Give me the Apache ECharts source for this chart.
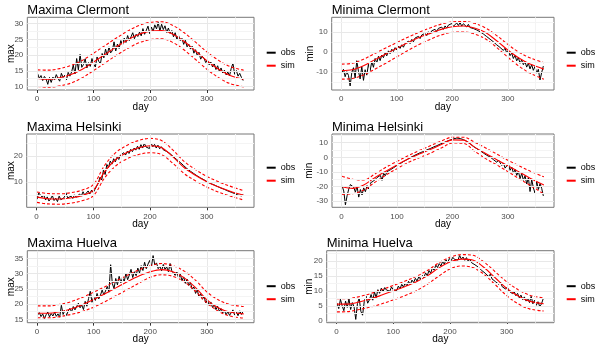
<!DOCTYPE html>
<html>
<head>
<meta charset="utf-8">
<script src="https://cdn.jsdelivr.net/npm/echarts@6/dist/echarts.min.js"></script>
<style>
html, body { margin: 0; padding: 0; background: #fff; }
#chart { width: 600px; height: 350px; }
</style>
</head>
<body>
<div id="chart"></div>
<script>
// observed values, one every 3 days (day 1, 4, 7 ... 364)
var obsStep = 3;
var clermontMaxObs = [
    14.1,12.6,13.5,11.9,13.2,12.4,10.7,12.9,11.3,13.0,
    12.2,13.8,12.6,11.7,14.2,12.9,13.6,12.1,14.5,13.3,
    14.6,16.8,14.0,18.9,15.3,20.2,16.1,17.0,18.8,15.9,
    17.6,16.4,18.9,17.1,16.2,19.4,18.0,17.3,20.5,19.1,
    21.9,19.8,22.6,20.7,21.4,24.2,21.3,23.5,22.1,24.6,
    23.2,25.4,24.0,26.2,24.6,25.8,27.1,25.2,26.6,25.9,
    27.3,26.1,28.4,26.6,27.0,29.2,26.8,28.9,27.5,29.6,
    28.3,30.4,27.6,29.8,28.1,29.3,27.2,28.6,26.9,27.8,
    25.8,27.1,25.0,26.2,24.6,25.3,23.4,24.7,22.6,23.5,
    21.9,22.8,20.6,21.7,19.8,20.9,18.7,19.6,18.9,17.6,
    18.4,16.9,17.8,16.2,17.3,15.4,16.6,14.8,15.9,14.3,
    15.2,13.7,14.6,13.4,15.8,17.4,13.9,15.1,13.3,14.2,
    12.9,11.9];
var clermontMinObs = [
    -10.4,-8.6,-12.3,-9.8,-11.6,-16.9,-10.2,-7.8,-12.9,-4.3,
    -9.6,-13.4,-7.2,-14.1,-8.8,-11.5,-6.1,-9.3,-4.8,-7.6,
    -3.2,-5.4,-2.1,-4.3,-1.5,-2.8,-0.4,-1.9,0.6,-0.8,
    1.4,0.3,2.2,1.1,2.9,1.8,3.6,2.4,4.3,3.5,
    5.4,4.2,6.3,5.1,7.0,6.2,7.8,6.7,8.5,7.6,
    9.3,8.2,10.1,9.0,10.6,9.7,11.3,10.2,11.8,10.9,
    12.4,11.3,13.0,11.9,13.4,12.6,14.2,12.8,13.7,14.5,
    13.2,14.7,12.9,14.1,13.4,12.5,13.8,12.2,13.1,11.7,
    12.4,11.0,11.6,10.1,10.8,9.0,9.6,7.7,8.3,6.4,
    7.0,5.1,5.8,3.6,4.5,2.3,3.1,0.8,1.9,-0.4,
    0.7,-1.8,-0.5,-3.2,-1.6,-4.4,-2.7,-5.6,-3.9,-6.3,
    -4.8,-7.5,-5.6,-8.4,-6.3,-9.1,-7.2,-10.5,-8.6,-13.9,
    -10.2,-7.0];
var helsinkiMaxObs = [
    3.4,5.8,6.1,4.2,5.0,3.1,4.3,2.7,3.6,4.8,
    2.9,3.8,2.5,4.6,3.2,2.6,4.1,5.9,3.9,3.3,
    4.6,3.7,5.1,4.2,3.9,5.4,4.6,6.3,5.0,5.8,
    6.6,5.4,6.9,6.0,7.2,7.8,9.6,11.9,10.8,14.6,
    12.9,16.8,15.6,18.1,16.9,19.0,17.8,19.6,18.7,20.4,
    19.8,21.3,20.4,21.9,21.0,22.6,21.7,23.1,22.3,23.8,
    22.6,24.4,23.1,24.9,23.5,24.2,22.9,25.0,23.6,24.5,
    23.1,24.2,22.8,23.6,22.5,23.0,21.8,22.2,21.0,20.6,
    19.8,20.1,18.7,18.9,17.6,17.8,16.4,16.6,15.2,15.0,
    14.2,14.4,13.3,13.6,12.4,12.8,11.6,12.0,10.9,11.2,
    10.1,10.5,9.4,9.9,8.9,9.3,8.3,8.8,7.7,8.2,
    7.2,7.7,6.6,7.1,6.1,6.7,5.6,6.2,5.0,5.7,
    4.7,5.2];
var helsinkiMinObs = [
    -19.6,-23.1,-32.6,-26.4,-21.8,-18.7,-17.9,-20.6,-23.9,-19.8,
    -27.3,-22.1,-25.8,-21.0,-23.6,-19.4,-21.7,-17.6,-18.9,-16.2,
    -16.7,-13.9,-15.2,-12.4,-15.8,-11.0,-12.6,-9.8,-10.7,-8.6,
    -9.3,-7.1,-7.9,-5.6,-6.4,-4.3,-4.9,-2.8,-3.3,-1.6,
    -2.0,-0.2,-0.9,1.0,0.3,2.1,1.4,3.2,2.6,4.0,
    3.6,5.1,4.4,6.0,5.3,7.1,6.4,8.0,7.5,9.1,
    8.6,10.0,9.5,11.0,10.4,11.9,11.2,12.7,12.0,13.2,
    12.4,12.9,11.9,12.1,11.2,10.9,10.1,9.2,8.8,7.4,
    7.6,5.9,6.3,4.5,4.8,2.9,3.5,1.4,2.3,0.2,
    1.0,-1.6,-0.6,-3.4,-1.9,-2.8,-5.6,-3.9,-7.4,-6.2,
    -4.4,-8.9,-6.7,-10.8,-8.3,-12.4,-9.7,-14.6,-11.0,-15.8,
    -12.6,-18.3,-14.0,-23.5,-15.2,-20.9,-24.7,-16.4,-22.1,-18.0,
    -21.3,-26.5];
var huelvaMaxObs = [
    16.4,17.2,15.9,16.8,15.3,16.5,17.4,15.8,16.9,16.1,
    17.3,16.0,16.8,15.7,19.6,16.6,17.9,16.3,17.7,18.6,
    17.4,19.2,18.1,17.6,20.3,18.8,19.7,18.2,20.9,19.3,
    21.8,24.2,20.6,22.4,21.2,23.5,21.7,22.9,24.6,23.0,
    24.3,25.8,23.9,32.9,26.7,25.1,28.4,26.3,29.1,27.0,
    28.6,27.4,30.1,28.0,29.5,31.4,28.7,30.6,29.3,31.8,
    30.2,32.6,31.0,33.7,31.6,33.1,34.3,32.2,35.9,32.8,
    33.5,31.6,32.4,30.9,33.0,31.4,32.2,30.6,33.3,30.9,
    31.2,29.4,30.5,28.6,29.8,27.7,28.9,26.8,28.2,26.1,
    27.0,24.9,25.6,23.5,24.7,22.3,23.4,21.6,22.5,20.4,
    21.4,19.6,20.7,18.8,19.9,18.2,19.3,17.6,18.5,17.1,
    17.9,16.5,17.6,16.3,17.2,18.1,16.4,17.5,16.2,17.8,
    16.6,17.7];
var huelvaMinObs = [
    5.9,4.1,7.2,5.0,3.4,6.6,4.5,7.4,3.8,6.1,
    4.7,0.5,5.8,7.6,3.2,1.9,6.5,8.3,5.9,7.0,
    8.8,6.9,9.6,7.8,10.4,9.2,10.9,9.7,11.1,10.3,
    10.8,9.9,11.3,10.4,10.9,10.1,11.6,10.7,12.2,11.3,
    12.6,11.7,13.2,12.1,13.6,12.8,14.2,13.3,14.7,13.9,
    15.2,14.4,16.0,15.1,16.8,15.9,17.7,16.9,18.6,17.8,
    19.1,18.3,19.8,18.9,20.4,19.5,20.8,20.1,21.2,20.5,
    21.0,20.3,21.8,20.6,21.3,20.2,21.1,19.9,20.6,19.4,
    19.8,18.7,19.2,17.9,18.3,16.8,17.4,15.9,16.5,14.8,
    15.6,14.0,14.6,13.1,13.7,12.2,12.9,11.4,12.0,10.6,
    11.3,9.9,10.5,9.1,9.8,8.4,9.2,7.7,8.6,7.1,
    8.0,6.6,7.5,6.1,8.2,5.7,6.9,5.2,6.4,4.8,
    5.6,7.3];

// simulated mean and band, at these days
var simDays = [1,20,40,60,80,100,120,140,160,180,200,220,240,260,280,300,320,340,365];
var clermontMaxSim = [12.6,12.3,12.8,13.8,15.5,17.8,20.2,22.6,24.8,26.6,27.6,27.8,26.6,24.3,21.3,18.2,15.6,13.6,12.3];
var clermontMaxHi  = [15.3,15.2,15.7,16.7,18.3,20.6,23.0,25.4,27.6,29.4,30.4,30.6,29.4,27.1,24.1,21.0,18.4,16.4,15.2];
var clermontMaxLo  = [10.0,9.8,10.2,11.1,12.8,15.1,17.5,19.9,22.1,23.9,24.9,25.2,24.0,21.6,18.6,15.5,12.9,11.0,9.9];
var clermontMinSim = [-9.2,-8.8,-6.8,-3.9,-1.0,1.9,4.7,7.2,9.3,11.3,12.6,13.0,12.0,9.7,5.6,1.0,-3.0,-6.0,-8.5];
var clermontMinHi  = [-6.0,-5.6,-3.6,-0.8,2.0,4.7,7.4,9.8,12.0,13.9,15.0,15.2,14.3,12.0,8.2,3.8,-0.1,-2.9,-5.3];
var clermontMinLo  = [-13.5,-13.2,-11.4,-8.6,-5.6,-2.4,0.8,3.7,6.3,8.5,9.8,10.0,9.0,6.5,2.3,-2.6,-7.0,-10.5,-13.5];
var helsinkiMaxSim = [4.2,3.6,3.5,3.9,4.8,6.8,14.0,18.8,21.5,23.2,24.0,23.3,19.8,15.6,12.6,10.1,8.2,6.6,4.9];
var helsinkiMaxHi  = [6.2,5.6,5.5,5.9,6.9,9.0,16.4,21.4,24.2,26.0,26.8,26.0,22.4,18.0,14.8,12.2,10.2,8.5,6.7];
var helsinkiMaxLo  = [2.2,1.6,1.5,1.9,2.8,4.7,11.6,16.3,19.0,20.6,21.3,20.6,17.3,13.3,10.5,8.1,6.2,4.7,3.1];
var helsinkiMinSim = [-20.2,-21.3,-19.0,-14.0,-9.5,-5.2,-1.2,2.2,5.3,8.8,12.0,11.8,7.0,2.6,-1.6,-5.8,-10.0,-14.3,-19.0];
var helsinkiMinHi  = [-13.0,-15.0,-15.6,-11.5,-6.8,-2.8,1.1,4.6,7.9,11.2,13.8,13.8,10.4,6.4,2.2,-2.0,-5.8,-9.4,-13.4];
var helsinkiMinLo  = [-25.4,-25.0,-22.5,-17.2,-12.2,-7.8,-3.6,-0.3,2.8,6.4,9.8,9.6,4.2,-0.9,-5.2,-9.8,-14.6,-19.2,-25.2];
var huelvaMaxSim = [17.0,17.0,17.5,18.4,19.8,21.5,23.4,25.4,27.4,29.2,30.6,31.3,30.6,28.6,25.4,21.4,18.8,17.4,16.8];
var huelvaMaxHi  = [19.4,19.4,19.9,20.8,22.2,23.9,25.7,27.6,29.5,31.2,32.6,33.3,32.6,30.8,27.8,24.0,21.4,19.9,19.2];
var huelvaMaxLo  = [15.5,15.5,15.9,16.6,17.6,19.0,20.8,22.8,24.8,26.9,28.8,29.6,29.1,27.3,24.2,20.4,17.7,16.1,15.4];
var huelvaMinSim = [5.6,5.6,6.3,7.3,8.6,10.0,11.4,13.0,15.0,17.6,19.6,20.6,20.3,17.8,14.3,10.8,8.3,6.6,5.7];
var huelvaMinHi  = [7.4,7.4,8.1,9.1,10.4,11.8,13.2,14.8,16.8,19.3,21.2,22.1,21.9,19.6,16.3,13.0,10.4,8.6,7.6];
var huelvaMinLo  = [3.0,3.1,3.8,4.6,5.7,7.0,8.4,10.0,12.2,14.9,17.3,18.3,17.8,15.5,12.0,8.4,5.7,4.0,3.3];

var dayTicks = [0, 100, 200, 300];

var panels = [
    {title: 'Maxima Clermont', yName: 'max', obs: clermontMaxObs, sim: clermontMaxSim, hi: clermontMaxHi, lo: clermontMaxLo,
     yMin: 8.9, yMax: 32.0, yTicks: [10, 15, 20, 25, 30]},
    {title: 'Minima Clermont', yName: 'min', obs: clermontMinObs, sim: clermontMinSim, hi: clermontMinHi, lo: clermontMinLo,
     yMin: -18.9, yMax: 17.3, yTicks: [-10, 0, 10]},
    {title: 'Maxima Helsinki', yName: 'max', obs: helsinkiMaxObs, sim: helsinkiMaxSim, hi: helsinkiMaxHi, lo: helsinkiMaxLo,
     yMin: 0.3, yMax: 28.5, yTicks: [10, 20]},
    {title: 'Minima Helsinki', yName: 'min', obs: helsinkiMinObs, sim: helsinkiMinSim, hi: helsinkiMinHi, lo: helsinkiMinLo,
     yMin: -34.3, yMax: 16.0, yTicks: [-30, -20, -10, 0, 10]},
    {title: 'Maxima Huelva', yName: 'max', obs: huelvaMaxObs, sim: huelvaMaxSim, hi: huelvaMaxHi, lo: huelvaMaxLo,
     yMin: 13.9, yMax: 37.5, yTicks: [15, 20, 25, 30, 35]},
    {title: 'Minima Huelva', yName: 'min', obs: huelvaMinObs, sim: huelvaMinSim, hi: huelvaMinHi, lo: huelvaMinLo,
     yMin: -0.6, yMax: 23.4, yTicks: [0, 5, 10, 15, 20]}
];

// plot boxes (px)
var boxes = [
    {left: 27.3, top: 17.3, width: 226.7, height: 72.7, legTop: 47.7, nameGap: 11},
    {left: 331.7, top: 17.3, width: 222.3, height: 72.7, legTop: 47.7, nameGap: 16.5},
    {left: 26.7, top: 134, width: 227.3, height: 73.3, legTop: 162.7, nameGap: 10.5},
    {left: 332, top: 134, width: 222, height: 73.3, legTop: 162.7, nameGap: 17.5},
    {left: 27.3, top: 250.7, width: 226.7, height: 72, legTop: 281.2, nameGap: 11},
    {left: 326.7, top: 250.7, width: 227.3, height: 72, legTop: 281.2, nameGap: 12.5}
];

var FONT = 'Liberation Sans, Arial, sans-serif';
var xMin = -17.2, xMax = 383.2;

function minorOf(ticks, lo, hi) {
    var step = ticks[1] - ticks[0];
    var out = [];
    for (var v = ticks[0] - step / 2; v < hi; v += step) {
        if (v > lo) out.push(v);
    }
    return out;
}

function pairs(days, vals) {
    return vals.map(function (v, k) { return [days[k], v]; });
}

var obsDays = clermontMaxObs.map(function (v, k) { return 1 + obsStep * k; });

var option = {
    animation: false,
    backgroundColor: '#fff',
    textStyle: {fontFamily: FONT},
    title: [], grid: [], xAxis: [], yAxis: [], legend: [], series: []
};

panels.forEach(function (p, i) {
    var b = boxes[i];
    option.title.push({
        text: p.title, left: b.left, top: b.top - 13.5, padding: 0,
        textStyle: {fontSize: 13, fontWeight: 'normal', color: '#000', fontFamily: FONT}
    });
    option.grid.push({
        left: b.left, top: b.top, width: b.width, height: b.height,
        show: true, backgroundColor: '#fff', borderColor: '#777', borderWidth: 1
    });
    option.xAxis.push({
        type: 'value', gridIndex: i, min: xMin, max: xMax,
        name: 'day', nameLocation: 'middle', nameGap: 12, nameMoveOverlap: false,
        nameTextStyle: {fontSize: 10, color: '#000', fontFamily: FONT},
        axisLine: {show: false},
        axisTick: {show: true, length: 3, lineStyle: {color: '#333'}, customValues: dayTicks},
        axisLabel: {fontSize: 8, color: '#4d4d4d', margin: 5, customValues: dayTicks, fontFamily: FONT},
        splitLine: {show: false}
    });
    option.yAxis.push({
        type: 'value', gridIndex: i, min: p.yMin, max: p.yMax,
        name: p.yName, nameLocation: 'middle', nameGap: b.nameGap, nameRotate: 90, nameMoveOverlap: false,
        nameTextStyle: {fontSize: 10, color: '#000', fontFamily: FONT},
        axisLine: {show: false},
        axisTick: {show: true, length: 3, lineStyle: {color: '#333'}, customValues: p.yTicks},
        axisLabel: {fontSize: 8, color: '#4d4d4d', margin: 4, customValues: p.yTicks, fontFamily: FONT},
        splitLine: {show: false}
    });
    option.legend.push({
        data: ['obs', 'sim'], orient: 'vertical', left: 266.7 + (i % 2) * 300, top: b.legTop,
        icon: 'rect', itemWidth: 9, itemHeight: 2, itemGap: 3, padding: 0, selectedMode: false,
        textStyle: {fontSize: 9, color: '#000', lineHeight: 10, fontFamily: FONT}
    });

    // grid lines, major at ticks, minor half way
    var gl = [];
    dayTicks.forEach(function (v) { gl.push({xAxis: v, lineStyle: {color: '#e8e8e8', width: 1, type: 'solid'}}); });
    minorOf(dayTicks, xMin, xMax).forEach(function (v) { gl.push({xAxis: v, lineStyle: {color: '#f4f4f4', width: 1, type: 'solid'}}); });
    p.yTicks.forEach(function (v) { gl.push({yAxis: v, lineStyle: {color: '#e8e8e8', width: 1, type: 'solid'}}); });
    minorOf(p.yTicks, p.yMin, p.yMax).forEach(function (v) { gl.push({yAxis: v, lineStyle: {color: '#f4f4f4', width: 1, type: 'solid'}}); });
    option.series.push({
        type: 'line', name: 'grid', xAxisIndex: i, yAxisIndex: i, data: [], z: 1, silent: true,
        markLine: {silent: true, symbol: 'none', label: {show: false}, animation: false, data: gl}
    });

    option.series.push({
        type: 'line', name: 'obs', xAxisIndex: i, yAxisIndex: i, z: 2,
        showSymbol: false, symbol: 'none',
        itemStyle: {color: '#000'}, lineStyle: {color: '#000', width: 1},
        data: pairs(obsDays, p.obs)
    });
    option.series.push({
        type: 'line', name: 'sim', xAxisIndex: i, yAxisIndex: i, z: 3,
        showSymbol: false, symbol: 'none', smooth: 0.35,
        itemStyle: {color: '#ff0000'}, lineStyle: {color: '#ff0000', width: 1.1},
        data: pairs(simDays, p.sim)
    });
    [p.hi, p.lo].forEach(function (band, k) {
        option.series.push({
            type: 'line', name: k === 0 ? 'sim upper' : 'sim lower', xAxisIndex: i, yAxisIndex: i, z: 3,
            showSymbol: false, symbol: 'none', smooth: 0.35,
            itemStyle: {color: '#ff0000'}, lineStyle: {color: '#ff0000', width: 1.1, type: [3, 2]},
            data: pairs(simDays, band)
        });
    });
});

var myChart = echarts.init(document.getElementById('chart'));
myChart.setOption(option);
</script>
</body>
</html>
